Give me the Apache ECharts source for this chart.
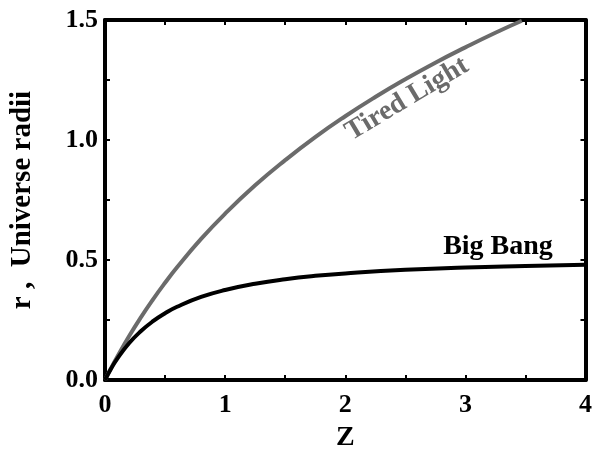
<!DOCTYPE html>
<html><head><meta charset="utf-8">
<script src="https://cdn.jsdelivr.net/npm/echarts@6/dist/echarts.min.js"></script>
<style>html,body{margin:0;padding:0;background:#fff}#c{width:595px;height:457px}</style>
</head><body><div id="c"></div>
<script>
var zTired = [0, 0.05, 0.1, 0.2, 0.3, 0.4, 0.5, 0.6, 0.8, 1.0, 1.25, 1.5, 1.75, 2.0, 2.25, 2.5, 2.75, 3.0, 3.25, 3.47];
var rTired = [0, 0.049, 0.095, 0.182, 0.262, 0.336, 0.405, 0.470, 0.588, 0.693, 0.811, 0.916, 1.012, 1.099, 1.179, 1.253, 1.322, 1.386, 1.447, 1.497];
var zBang = [0, 0.05, 0.1, 0.2, 0.3, 0.4, 0.5, 0.6, 0.8, 1.0, 1.25, 1.5, 1.75, 2.0, 2.5, 3.0, 3.5, 4.0];
var rBang = [0, 0.0465, 0.087, 0.153, 0.204, 0.245, 0.278, 0.305, 0.346, 0.375, 0.401, 0.420, 0.434, 0.444, 0.459, 0.469, 0.475, 0.480];
var xTickLabels = ['0', '1', '2', '3', '4'];
var yTickLabels = ['0.0', '0.5', '1.0', '1.5'];
var xTitle = 'Z';
var yTitle = 'r ,  Universe radii';

var font = 'Liberation Serif';
function pairs(xs, ys) { return xs.map(function (x, i) { return [x, ys[i]]; }); }
var chart = echarts.init(document.getElementById('c'), null, {renderer: 'canvas'});
var lab = {color: '#000', fontFamily: font, fontWeight: 'bold', fontSize: 26};
chart.setOption({
  animation: false,
  backgroundColor: '#fff',
  grid: {left: 104, right: 3, top: 20, bottom: 72, containLabel: false},
  xAxis: [{
    type: 'value', min: 0, max: 4, interval: 0.5, position: 'bottom',
    name: xTitle, nameLocation: 'middle', nameGap: 44,
    nameTextStyle: {color: '#000', fontFamily: font, fontWeight: 'bold', fontSize: 28},
    axisLine: {show: true, onZero: false, lineStyle: {color: '#000', width: 4}},
    axisTick: {show: true, inside: true, length: 5, lineStyle: {color: '#000', width: 2}},
    axisLabel: Object.assign({margin: 12, formatter: function (v) { return v % 1 === 0 ? xTickLabels[v] : ''; }}, lab),
    splitLine: {show: false}
  }, {
    type: 'value', min: 0, max: 4, interval: 0.5, position: 'top',
    axisLine: {show: true, onZero: false, lineStyle: {color: '#000', width: 4}},
    axisTick: {show: true, inside: true, length: 5, lineStyle: {color: '#000', width: 2}},
    axisLabel: {show: false}, splitLine: {show: false}
  }],
  yAxis: [{
    type: 'value', min: 0, max: 1.5, interval: 0.25, position: 'left',
    name: yTitle, nameLocation: 'middle', nameGap: 68, nameRotate: 90,
    nameTextStyle: {color: '#000', fontFamily: font, fontWeight: 'bold', fontSize: 29},
    axisLine: {show: true, onZero: false, lineStyle: {color: '#000', width: 4}},
    axisTick: {show: true, inside: true, length: 5, lineStyle: {color: '#000', width: 2}},
    axisLabel: Object.assign({margin: 7, formatter: function (v) { var k = Math.round(v * 2); return Math.abs(v * 2 - k) < 1e-6 ? yTickLabels[k] : ''; }}, lab),
    splitLine: {show: false}
  }, {
    type: 'value', min: 0, max: 1.5, interval: 0.25, position: 'right',
    axisLine: {show: true, onZero: false, lineStyle: {color: '#000', width: 4}},
    axisTick: {show: true, inside: true, length: 5, lineStyle: {color: '#000', width: 2}},
    axisLabel: {show: false}, splitLine: {show: false}
  }],
  series: [{
    type: 'line', xAxisIndex: 0, yAxisIndex: 0, data: pairs(zTired, rTired),
    smooth: true, showSymbol: false, lineStyle: {color: '#6b6b6b', width: 4}
  }, {
    type: 'line', xAxisIndex: 0, yAxisIndex: 0, data: pairs(zBang, rBang),
    smooth: true, showSymbol: false, lineStyle: {color: '#000', width: 4}
  }],
  graphic: [{
    type: 'text', x: 407, y: 99, rotation: 31 * Math.PI / 180,
    style: {text: 'Tired Light', fill: '#6b6b6b', font: 'bold 28px "Liberation Serif"', align: 'center', verticalAlign: 'middle'}
  }, {
    type: 'text', x: 498, y: 247,
    style: {text: 'Big Bang', fill: '#000', font: 'bold 28px "Liberation Serif"', align: 'center', verticalAlign: 'middle'}
  }]
});
</script></body></html>
